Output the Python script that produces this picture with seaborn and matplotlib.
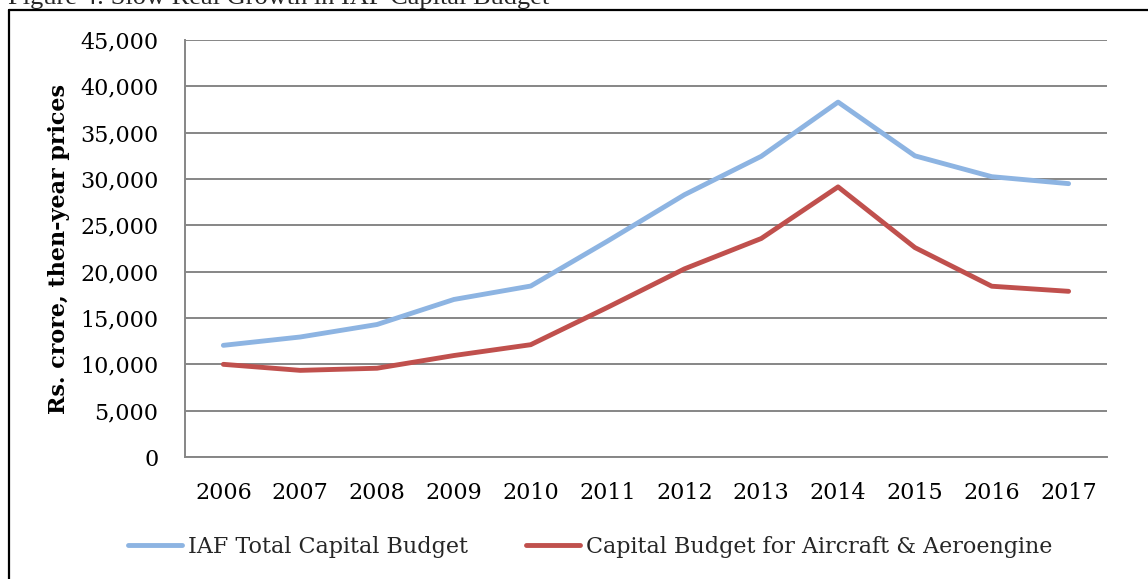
"""Figure 4: Slow Real Growth in IAF Capital Budget."""

import matplotlib
matplotlib.use("Agg")
import matplotlib.pyplot as plt
import matplotlib.ticker as ticker
from matplotlib.lines import Line2D
import pandas as pd
import seaborn as sns

YEARS = ["2006", "2007", "2008", "2009", "2010", "2011",
         "2012", "2013", "2014", "2015", "2016", "2017"]
IAF_TOTAL = [12050, 12950, 14300, 17000, 18450, 23300,
             28300, 32450, 38300, 32500, 30250, 29500]
AIRCRAFT_AERO = [10000, 9350, 9580, 10950, 12120, 16150,
                 20300, 23580, 29150, 22600, 18430, 17880]
SERIES = ["IAF Total Capital Budget", "Capital Budget for Aircraft & Aeroengine"]
COLORS = ["#8DB4E2", "#C0504D"]

sns.set_theme(style="white")
plt.rcParams["font.family"] = ["DejaVu Serif"]

df = pd.DataFrame({
    "year": YEARS * 2,
    "value": IAF_TOTAL + AIRCRAFT_AERO,
    "series": [SERIES[0]] * len(YEARS) + [SERIES[1]] * len(YEARS),
})
df["pos"] = list(range(len(YEARS))) * 2

fig = plt.figure(figsize=(11.48, 5.79), dpi=100)
ax = fig.add_axes([0.1611, 0.2107, 0.8032, 0.7202])

sns.lineplot(data=df, x="pos", y="value", hue="series", palette=COLORS,
             hue_order=SERIES, linewidth=3.5, ax=ax, legend=False,
             solid_capstyle="round")

ax.set_xlim(-0.5, len(YEARS) - 0.5)
ax.set_ylim(0, 45000)
ax.set_xticks(range(len(YEARS)))
ax.set_xticklabels(YEARS)
ax.yaxis.set_major_locator(ticker.MultipleLocator(5000))
ax.yaxis.set_major_formatter(ticker.FuncFormatter(lambda v, p: f"{int(v):,}"))
ax.tick_params(axis="both", length=0, labelsize=16, colors="black")
ax.tick_params(axis="y", pad=19)
ax.tick_params(axis="x", pad=18)

ax.grid(True, axis="y", color="#868686", linewidth=1.4)
ax.set_axisbelow(True)
for side in ["top", "right"]:
    ax.spines[side].set_visible(False)
for side in ["left", "bottom"]:
    ax.spines[side].set_color("#868686")
    ax.spines[side].set_linewidth(1.4)

ax.set_xlabel("")
ax.set_ylabel("Rs. crore, then-year prices", fontsize=16, fontweight="bold",
              color="black")
ax.yaxis.set_label_coords(-0.1247, 0.5)

handles = [Line2D([], [], color=c, linewidth=3.5, solid_capstyle="round")
           for c in COLORS]
fig.legend(handles, SERIES, loc="center", bbox_to_anchor=(0.514, 0.0553),
           ncol=2, frameon=False, fontsize=16, handlelength=2.45,
           handletextpad=0.25, columnspacing=2.6)

# page frame and clipped caption above it
fig.add_artist(Line2D([9 / 1148, 9 / 1148], [0, 1 - 10 / 579], color="black",
                      linewidth=1.6, transform=fig.transFigure))
fig.add_artist(Line2D([9 / 1148, 1], [1 - 10 / 579, 1 - 10 / 579], color="black",
                      linewidth=1.6, transform=fig.transFigure))
fig.text(8 / 1148, 1 - 4 / 579, "Figure 4: Slow Real Growth in IAF Capital Budget",
         fontsize=19, family=["Liberation Serif"], va="baseline", ha="left")

fig.savefig("out.png", dpi=100)
